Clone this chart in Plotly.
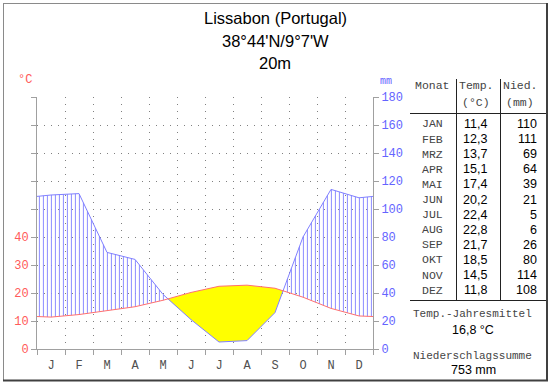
import numpy as np
import plotly.graph_objects as go

# ---------------- data ----------------
months = ["J", "F", "M", "A", "M", "J", "J", "A", "S", "O", "N", "D"]
table_months = ["JAN", "FEB", "MRZ", "APR", "MAI", "JUN", "JUL", "AUG", "SEP", "OKT", "NOV", "DEZ"]
temp = [11.4, 12.3, 13.7, 15.1, 17.4, 20.2, 22.4, 22.8, 21.7, 18.5, 14.5, 11.8]
precip = [110, 111, 69, 64, 39, 21, 5, 6, 26, 80, 114, 108]
title_lines = ["Lissabon (Portugal)", "38°44'N/9°7'W", "20m"]
left_tick_labels = ["0", "10", "20", "30", "40"]
right_tick_vals = [0, 20, 40, 60, 80, 100, 120, 140, 160, 180]
temp_mean_label = "Temp.-Jahresmittel"
temp_mean = "16,8 °C"
precip_sum_label = "Niederschlagssumme"
precip_sum = "753 mm"

# ---------------- geometry (pixels) ----------------
W, H = 550, 384
L, R, T, B = 37, 373, 97, 349


def px(x):
    return (x - L) / (R - L)


def py(y):
    return (B - y) / (B - T)


MONO = "Liberation Mono"
SANS = "Liberation Sans, Arial"
RED = "#ff5a5a"
BLUE = "#6464ff"
GRAY = "#a0a0a0"
GRID = "#808080"
DOTS = "1px,6px"

# periodic curves: month centres plus edges (mean of Dec/Jan)
xc = [0.0] + [i + 0.5 for i in range(12)] + [12.0]
t2 = [2 * t for t in temp]  # 10 °C = 20 mm
edge_t = (t2[0] + t2[-1]) / 2
edge_p = (precip[0] + precip[-1]) / 2
tc = [edge_t] + t2 + [edge_t]
pc = [edge_p] + list(precip) + [edge_p]

fig = go.Figure()

# humid hatching
xs = (np.arange(84) + 0.6) / 7
ti = np.interp(xs, xc, tc)
pi = np.interp(xs, xc, pc)
hx, hy = [], []
for x, a, b in zip(xs, ti, pi):
    if b > a:
        hx += [x, x, None]
        hy += [a, b, None]
fig.add_trace(go.Scatter(x=hx, y=hy, mode="lines",
                         line=dict(color="#8c8cff", width=1),
                         hoverinfo="skip", showlegend=False))

# arid area (yellow)
d = np.array(tc) - np.array(pc)
xs_all = list(xc)
for i in range(len(xc) - 1):
    if d[i] * d[i + 1] < 0:
        xs_all.append(xc[i] + (xc[i + 1] - xc[i]) * d[i] / (d[i] - d[i + 1]))
xs_all = np.array(sorted(xs_all))
ta = np.interp(xs_all, xc, tc)
pa = np.interp(xs_all, xc, pc)
dry = (ta - pa) >= -1e-9
yx, yy = [], []
i = 0
n = len(xs_all)
while i < n:
    if dry[i]:
        j = i
        while j + 1 < n and dry[j + 1]:
            j += 1
        if j > i:
            seg_idx = list(range(i, j + 1))
            yx += [xs_all[k] for k in seg_idx] + [xs_all[k] for k in reversed(seg_idx)] + [None]
            yy += [ta[k] for k in seg_idx] + [pa[k] for k in reversed(seg_idx)] + [None]
        i = j + 1
    else:
        i += 1
fig.add_trace(go.Scatter(x=yx, y=yy, mode="lines", fill="toself",
                         fillcolor="#ffff00", line=dict(width=0),
                         hoverinfo="skip", showlegend=False))

# precipitation line
fig.add_trace(go.Scatter(x=xc, y=pc, mode="lines",
                         line=dict(color="#8080ff", width=1),
                         hoverinfo="skip", showlegend=False))
# temperature line
fig.add_trace(go.Scatter(x=xc, y=tc, mode="lines",
                         line=dict(color="#ff7070", width=1),
                         hoverinfo="skip", showlegend=False))
# invisible trace for right axis
fig.add_trace(go.Scatter(x=[0], y=[0], yaxis="y2", mode="markers",
                         marker=dict(opacity=0), hoverinfo="skip", showlegend=False))

left_vals = right_tick_vals
left_text = left_tick_labels + [""] * (len(left_vals) - len(left_tick_labels))

fig.update_layout(
    width=W, height=H,
    margin=dict(l=L, r=W - R, t=T, b=H - B, pad=0),
    plot_bgcolor="white", paper_bgcolor="white",
    showlegend=False,
    xaxis=dict(
        range=[0, 12], fixedrange=True,
        tickmode="array", tickvals=[i + 0.5 for i in range(12)], ticktext=months,
        ticks="outside", ticklen=5, tickcolor="rgba(0,0,0,0)",
        tickfont=dict(family=MONO, size=12, color="#505050"),
        showgrid=False, zeroline=False,
        showline=True, linecolor=GRAY, linewidth=1,
        minor=dict(tickmode="array", tickvals=list(range(13)), ticks="outside",
                   ticklen=5, tickcolor=GRAY, showgrid=True,
                   gridcolor=GRID, griddash=DOTS, gridwidth=1),
    ),
    yaxis=dict(
        range=[0, 180], fixedrange=True,
        tickmode="array", tickvals=left_vals, ticktext=left_text,
        ticks="outside", ticklen=5, tickcolor=GRAY,
        tickfont=dict(family=MONO, size=12, color=RED),
        showgrid=True, gridcolor=GRID, griddash=DOTS, gridwidth=1,
        zeroline=False, showline=True, linecolor=GRAY, linewidth=1,
    ),
    yaxis2=dict(
        range=[0, 180], fixedrange=True, overlaying="y", side="right",
        tickmode="array", tickvals=right_tick_vals,
        ticks="outside", ticklen=5, tickcolor=GRAY,
        tickfont=dict(family=MONO, size=12, color=BLUE),
        showgrid=False, zeroline=False, showline=True, linecolor=GRAY, linewidth=1,
    ),
)

ann = []


def text(x, y, s, family=SANS, size=12, color="#000", anchor="center"):
    ann.append(dict(x=px(x), y=py(y), xref="paper", yref="paper", text=s,
                    showarrow=False, xanchor=anchor, yanchor="middle",
                    font=dict(family=family, size=size, color=color)))


# title
for s, yv in zip(title_lines, [18, 41, 63]):
    text(275, yv, s, size=16.5)
# unit labels
text(25, 80, "°C", family=MONO, size=12, color=RED)
text(386, 81, "mm", family=MONO, size=10, color=BLUE)

# table
TXT = "#444"
MS = 11.5
text(432, 86, "Monat", family=MONO, size=MS, color=TXT)
text(476, 86, "Temp.", family=MONO, size=MS, color=TXT)
text(476, 102, "(°C)", family=MONO, size=MS, color=TXT)
text(520, 86, "Nied.", family=MONO, size=MS, color=TXT)
text(520, 102, "(mm)", family=MONO, size=MS, color=TXT)
for k, (m, t, p) in enumerate(zip(table_months, temp, precip)):
    yv = 124 + k * 15.1
    text(432, yv, m, family=MONO, size=MS, color=TXT)
    text(475, yv, f"{t:.1f}".replace(".", ","), size=12.5)
    text(539, yv, str(p), size=12.5, anchor="right")
text(472, 314, temp_mean_label, family=MONO, size=11, color=TXT)
text(473, 330, temp_mean, size=12.5)
text(472, 356, precip_sum_label, family=MONO, size=11, color=TXT)
text(473, 370, precip_sum, size=12.5)

shapes = []


def seg(x0, y0, x1, y1, color, width=1):
    shapes.append(dict(type="line", xref="paper", yref="paper",
                       x0=px(x0), y0=py(y0), x1=px(x1), y1=py(y1),
                       line=dict(color=color, width=width)))


# table lines
seg(456.5, 79, 456.5, 301, "#222")
seg(500.5, 79, 500.5, 301, "#222")
seg(410, 113.5, 547, 113.5, "#222")
seg(410, 300.5, 547, 300.5, "#222")
# frame
seg(3.5, 3, 3.5, 381, "#8a8a8a")
seg(3, 3.5, 547, 3.5, "#8a8a8a")
seg(547, 3, 547, 381, "#404040", 2)
seg(3, 380.5, 548, 380.5, "#404040", 2)

fig.update_layout(annotations=ann, shapes=shapes)
fig.write_html("out.html", config={"displayModeBar": False},
               post_script="document.body.style.margin='0';document.body.style.overflow='hidden';")
